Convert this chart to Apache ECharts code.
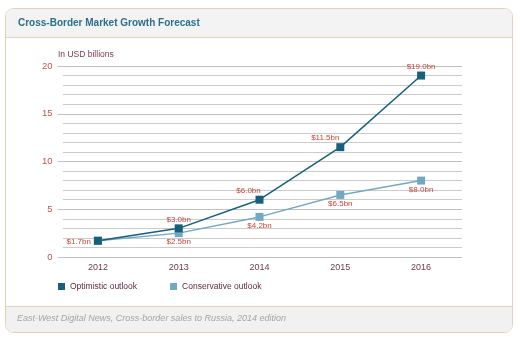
<!DOCTYPE html>
<html>
<head>
<meta charset="utf-8">
<style>
  html, body { margin: 0; padding: 0; background: #ffffff; }
  #chart { width: 520px; height: 342px; }
</style>
<script src="https://cdn.jsdelivr.net/npm/echarts@6/dist/echarts.min.js"></script>
</head>
<body>
<div id="chart"></div>
<script>
// Market forecast, USD billions
const years = ['2012', '2013', '2014', '2015', '2016'];
const optimistic = [1.7, 3.0, 6.0, 11.5, 19.0];
const conservative = [1.7, 2.5, 4.2, 6.5, 8.0];
const yTicks = [0, 5, 10, 15, 20];
const seriesNames = ['Optimistic outlook', 'Conservative outlook'];
const chartTitle = 'Cross-Border Market Growth Forecast';
const unitLabel = 'In USD billions';
const sourceNote = 'East-West Digital News, Cross-border sales to Russia, 2014 edition';

const FONT = '"Liberation Sans", Arial, sans-serif';
const DARK = '#17607d';
const LIGHT = '#72a9c2';
const LABEL_RED = '#c4483c';
const BORDER = '#e2d3b8';

const fmt = v => '$' + v.toFixed(1) + 'bn';

// Per-point label placement: optimistic above, conservative below
const optData = optimistic.map((v, i) => {
  const item = { value: v, label: { show: true, formatter: fmt(v), position: 'top', distance: 1 } };
  if (i === 0) { item.label.position = 'left'; item.label.distance = 3; item.label.offset = [0, 1]; }
  if (i === 2) item.label.offset = [-11, 0];
  if (i === 3) item.label.offset = [-15, 0];
  return item;
});
const consData = conservative.map((v, i) => {
  const item = { value: v, label: { show: i > 0, formatter: fmt(v), position: 'bottom', distance: 1 } };
  return item;
});

const chart = echarts.init(document.getElementById('chart'), null, { renderer: 'canvas' });

chart.setOption({
  animation: false,
  backgroundColor: '#ffffff',
  textStyle: { fontFamily: FONT },
  graphic: [
    // panel body
    { type: 'rect', z: -10, silent: true, shape: { x: 5.5, y: 8.5, width: 507, height: 324, r: 8 },
      style: { fill: '#ffffff', stroke: BORDER, lineWidth: 1 } },
    // header band
    { type: 'rect', z: -9, silent: true, shape: { x: 6, y: 9, width: 506, height: 28, r: [7, 7, 0, 0] },
      style: { fill: '#f3f3f3' } },
    { type: 'line', z: -8, silent: true, shape: { x1: 6, y1: 37.5, x2: 512, y2: 37.5 },
      style: { stroke: BORDER, lineWidth: 1 } },
    // footer band
    { type: 'rect', z: -9, silent: true, shape: { x: 6, y: 306, width: 506, height: 26, r: [0, 0, 7, 7] },
      style: { fill: '#f1f1f1' } },
    { type: 'line', z: -8, silent: true, shape: { x1: 6, y1: 306.5, x2: 512, y2: 306.5 },
      style: { stroke: BORDER, lineWidth: 1 } },
    { type: 'text', z: 5, left: 18, top: 18,
      style: { text: chartTitle, fill: '#2b6f8c', font: 'bold 10px ' + FONT } },
    { type: 'text', z: 5, left: 58, top: 50,
      style: { text: unitLabel, fill: '#7a3a4c', font: '8.5px ' + FONT } },
    { type: 'text', z: 5, left: 17, top: 314,
      style: { text: sourceNote, fill: '#a4a4a4', font: 'italic 9px ' + FONT } }
  ],
  legend: {
    data: seriesNames,
    left: 58, top: 282, padding: 0,
    icon: 'rect', itemWidth: 7, itemHeight: 7, itemGap: 33,
    textStyle: { color: '#5e2a3e', fontSize: 8.5, fontFamily: FONT }
  },
  grid: [
    { left: 63, right: 58, top: 66, bottom: 85 },
    { left: 57.5, right: 58.5, top: 66, bottom: 85 }
  ],
  xAxis: [
    { gridIndex: 0, type: 'category', data: years, show: false },
    {
      gridIndex: 1, type: 'category', data: years, boundaryGap: true,
      axisLine: { show: false }, axisTick: { show: false },
      axisLabel: { color: '#6e3a4c', fontSize: 9, margin: 6, fontFamily: FONT }
    }
  ],
  yAxis: [
    {
      // minor grid lines, one per unit
      gridIndex: 0, type: 'value', min: 0, max: 20, interval: 1,
      axisLine: { show: false }, axisTick: { show: false }, axisLabel: { show: false },
      splitLine: { lineStyle: { color: '#cbcbcb', width: 1 } }
    },
    {
      gridIndex: 1, type: 'value', min: 0, max: 20, interval: 5,
      axisLine: { show: false }, axisTick: { show: false },
      axisLabel: { color: '#b8574d', fontSize: 9.5, margin: 5, fontFamily: FONT,
        formatter: v => (yTicks.includes(v) ? String(v) : '') },
      splitLine: { lineStyle: { color: '#c0c0c0', width: 1 } }
    }
  ],
  series: [
    {
      name: seriesNames[0], type: 'line', xAxisIndex: 1, yAxisIndex: 1, z: 4,
      data: optData, symbol: 'rect', symbolSize: 8,
      lineStyle: { color: DARK, width: 1.5 }, itemStyle: { color: DARK },
      label: { color: LABEL_RED, fontSize: 8, fontFamily: FONT }
    },
    {
      name: seriesNames[1], type: 'line', xAxisIndex: 1, yAxisIndex: 1, z: 3,
      data: consData, symbol: 'rect', symbolSize: 8,
      lineStyle: { color: LIGHT, width: 1.5 }, itemStyle: { color: LIGHT },
      label: { color: LABEL_RED, fontSize: 8, fontFamily: FONT }
    }
  ]
});
</script>
</body>
</html>
